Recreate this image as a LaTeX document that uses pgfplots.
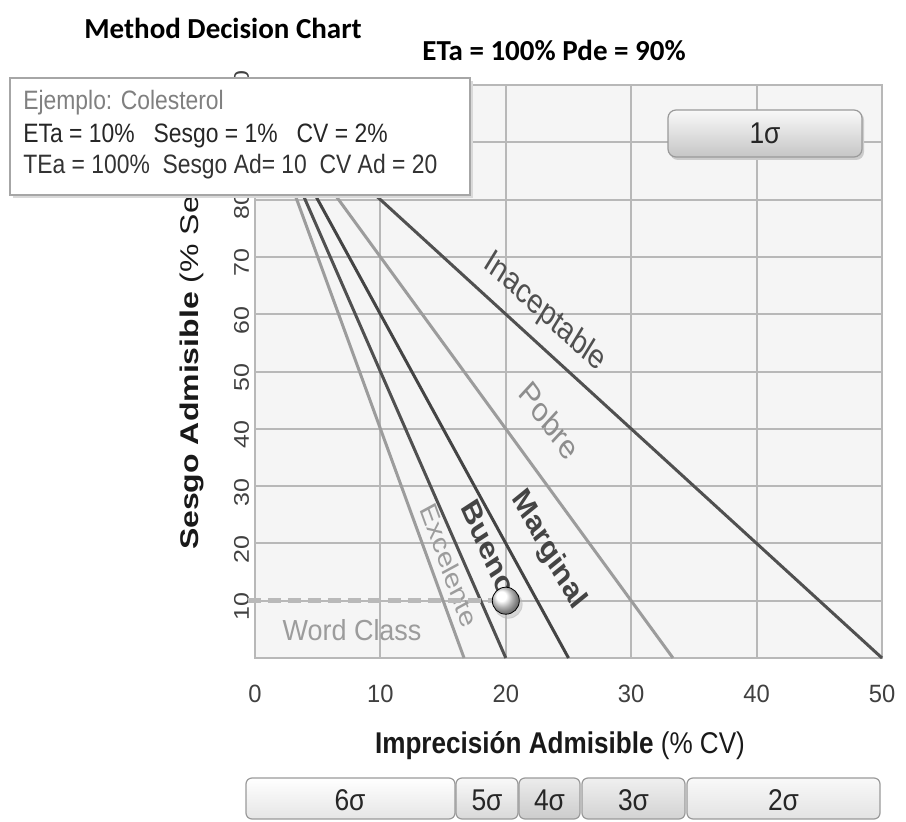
\documentclass[border=0pt]{standalone}
\usepackage{fontspec}
\setmainfont{Liberation Sans}
\newfontfamily\carlito{Carlito}
\usepackage{pgfplots}
\pgfplotsset{compat=1.18}
\definecolor{gridc}{HTML}{B8B8B8}
\definecolor{bgc}{HTML}{F5F5F5}
\definecolor{tickc}{HTML}{404040}
\definecolor{dark}{HTML}{505050}
\definecolor{darker}{HTML}{444444}
\definecolor{light}{HTML}{9C9C9C}
\definecolor{btnb}{HTML}{9A9A9A}
\begin{document}
\begin{tikzpicture}
\useasboundingbox (0,0) rectangle (453pt,410.5pt);
\begin{axis}[
  at={(127.5pt,81.5pt)}, anchor=south west,
  scale only axis, width=313.5pt, height=286.5pt,
  xmin=0, xmax=50, ymin=0, ymax=100,
  xtick={0,10,...,50}, ytick={10,20,...,100},
  grid=major, major grid style={gridc, line width=1pt},
  axis line style={gridc, line width=1pt},
  major tick length=0pt,
  axis background/.style={fill=bgc},
  tick label style={font=\fontsize{12.5}{14}\selectfont, text=tickc},
  xticklabel style={xscale=0.95, yshift=-10pt},
  yticklabel style={xscale=0.85, rotate=90, anchor=south, xshift=-3pt},
  /pgf/number format/assume math mode=true,
  clip=false,
]
% sigma lines: bias + n*CV = 100
\addplot[dark, line width=1.5pt] coordinates {(0,100) (50,0)};
\addplot[light, line width=1.5pt] coordinates {(0,100) (33.33,0)};
\addplot[darker, line width=1.5pt] coordinates {(0,100) (25,0)};
\addplot[dark, line width=1.5pt] coordinates {(0,100) (20,0)};
\addplot[light, line width=1.5pt] coordinates {(0,100) (16.67,0)};
% labels
\node[font=\fontsize{17}{18}\selectfont, text=dark, xscale=0.82, rotate=-36.9] at (axis cs:23.1,60.3) {Inaceptable};
\node[font=\fontsize{17}{18}\selectfont, text=light!90!black, xscale=0.82, rotate=-48.3] at (axis cs:23.5,41.5) {Pobre};
\node[font=\fontsize{16.5}{18}\selectfont\bfseries, text=darker, xscale=0.82, rotate=-56.3] at (axis cs:23.4,18.8) {Marginal};
\node[font=\fontsize{16.5}{18}\selectfont\bfseries, text=darker, xscale=0.82, rotate=-61.9] at (axis cs:18.6,19.3) {Bueno};
\node[font=\fontsize{15}{16}\selectfont, text=light, xscale=0.82, rotate=-66.0] at (axis cs:15.5,16.2) {Excelente};
\node[font=\fontsize{14.5}{15}\selectfont, text=light, xscale=0.93] at (axis cs:7.74,4.9) {Word Class};
% world class limit
\addplot[gray!55, line width=2.5pt, dash pattern=on 6.5pt off 3.5pt] coordinates {(-0.55,10) (20,10)};
\addplot[only marks, mark=*, mark size=7pt, color=black!30, opacity=0.45, xshift=1.2pt, yshift=-1.8pt] coordinates {(20,10)};
\addplot[only marks, mark=ball, mark size=6.75pt, ball color=white] coordinates {(20,10)};
\end{axis}
% y label
\node[font=\fontsize{16}{17}\selectfont, text=black!90, xscale=0.8, rotate=90, anchor=west] at (96pt,132pt) {\textbf{Sesgo Admisible} (\% Sesgo)};
% x label
\node[font=\fontsize{15}{16}\selectfont, text=black!90, xscale=0.87] at (280pt,37.5pt) {\textbf{Imprecisión Admisible} (\% CV)};
% titles
\node[font=\carlito\bfseries\fontsize{14.5}{16}\selectfont] at (111.5pt,396.5pt) {Method Decision Chart};
\node[font=\carlito\bfseries\fontsize{14.5}{16}\selectfont] at (277pt,385.5pt) {ETa = 100\% Pde = 90\%};
% example box
\fill[black!15] (6.5pt,311.5pt) rectangle (236.5pt,370pt);
\draw[gray!70, fill=white, line width=0.8pt] (5pt,313pt) rectangle (235pt,371.5pt);
\node[anchor=west, font=\fontsize{13.3}{14}\selectfont, text=gray, xscale=0.86, inner sep=0pt] at (11.5pt,359pt) {Ejemplo: Colesterol};
\node[anchor=west, font=\fontsize{13.3}{14}\selectfont, text=black!85, xscale=0.86, inner sep=0pt] at (11.5pt,342.5pt) {ETa = 10\%\ \ \ Sesgo = 1\%\ \ \ CV = 2\%};
\node[anchor=west, font=\fontsize{13.3}{14}\selectfont, text=black!80, xscale=0.86, inner sep=0pt] at (11.5pt,327pt) {TEa = 100\%\ \ Sesgo Ad= 10\ \ CV Ad = 20};
% 1 sigma button
\fill[black!20, rounded corners=4pt] (335pt,330.5pt) rectangle (432pt,354.5pt);
\shadedraw[top color=white!95!gray, bottom color=gray!45, draw=btnb, rounded corners=4pt, line width=0.6pt] (334pt,332pt) rectangle (431pt,355.5pt);
\node[font=\fontsize{15}{16}\selectfont, xscale=0.88, text=black!85] at (382.5pt,344pt) {1σ};
% sigma buttons
\shadedraw[top color=white, bottom color=gray!20, draw=btnb, rounded corners=3pt, line width=0.6pt] (123pt,1pt) rectangle (227.5pt,21.5pt);
\shadedraw[top color=white!95!gray, bottom color=gray!30, draw=btnb, rounded corners=3pt, line width=0.6pt] (228pt,1pt) rectangle (259pt,21.5pt);
\shadedraw[top color=gray!15, bottom color=gray!40, draw=btnb, rounded corners=3pt, line width=0.6pt] (259.5pt,1pt) rectangle (290pt,21.5pt);
\shadedraw[top color=gray!12, bottom color=gray!35, draw=btnb, rounded corners=3pt, line width=0.6pt] (291pt,1pt) rectangle (342.5pt,21.5pt);
\shadedraw[top color=white!95!gray, bottom color=gray!22, draw=btnb, rounded corners=3pt, line width=0.6pt] (343.5pt,1pt) rectangle (440pt,21.5pt);
\node[font=\fontsize{15}{16}\selectfont, xscale=0.88, text=black!85] at (175pt,10.5pt) {6σ};
\node[font=\fontsize{15}{16}\selectfont, xscale=0.88, text=black!85] at (243.5pt,10.5pt) {5σ};
\node[font=\fontsize{15}{16}\selectfont, xscale=0.88, text=black!85] at (274.75pt,10.5pt) {4σ};
\node[font=\fontsize{15}{16}\selectfont, xscale=0.88, text=black!85] at (316.75pt,10.5pt) {3σ};
\node[font=\fontsize{15}{16}\selectfont, xscale=0.88, text=black!85] at (391.75pt,10.5pt) {2σ};
\end{tikzpicture}
\end{document}
